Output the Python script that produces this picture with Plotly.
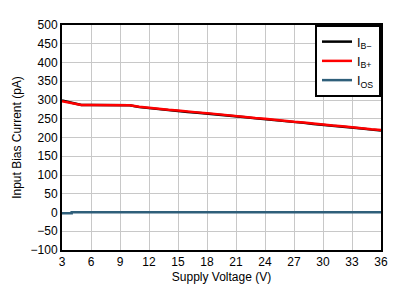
import plotly.graph_objects as go

vsup = [3, 3.5, 4, 4.5, 5, 6, 7, 8, 9, 10, 11, 12, 13, 14, 15, 16, 17, 18, 19, 20,
        21, 22, 23, 24, 25, 26, 27, 28, 29, 30, 31, 32, 33, 34, 35, 36]
ib_plus = [297, 294, 291, 288, 287, 287, 287, 287, 287, 286, 282, 279, 277, 274, 272, 269, 267, 265, 262, 260,
           257, 255, 252, 250, 247, 245, 242, 240, 237, 235, 232, 230, 227, 225, 222, 220]
ib_minus = [299, 296, 293, 289, 287, 287, 287, 287, 287, 286, 281, 278, 276, 273, 271, 268, 266, 264, 261, 259,
            256, 254, 251, 249, 246, 244, 241, 239, 236, 234, 231, 229, 226, 224, 221, 219]
ios = [-2, -2, 1, 1, 1, 1, 1, 1, 1, 1, 1, 1, 1, 1, 1, 1, 1, 1, 1, 1,
       1, 1, 1, 1, 1, 1, 1, 1, 1, 1, 1, 1, 1, 1, 1, 1]

x_ticks = list(range(3, 37, 3))
y_ticks = list(range(-100, 501, 50))

fig = go.Figure()
fig.add_trace(go.Scatter(x=vsup, y=ib_minus, mode="lines", name="I<sub>B−</sub>",
                         line=dict(color="#000000", width=2.5)))
fig.add_trace(go.Scatter(x=vsup, y=ib_plus, mode="lines", name="I<sub>B+</sub>",
                         line=dict(color="#FF0000", width=2.5)))
fig.add_trace(go.Scatter(x=vsup, y=ios, mode="lines", name="I<sub>OS</sub>",
                         line=dict(color="#2F5F7A", width=2.5, shape="hv")))

fig.update_layout(
    width=404, height=298,
    margin=dict(l=62, r=23, t=25, b=48),
    paper_bgcolor="white", plot_bgcolor="white",
    font=dict(family="Liberation Sans, Arial, sans-serif", size=12, color="black"),
    showlegend=True,
    legend=dict(x=1, y=1, xanchor="right", yanchor="top",
                bordercolor="black", borderwidth=2, bgcolor="white",
                font=dict(size=12.5), tracegroupgap=0, itemwidth=30),
)
fig.update_xaxes(range=[3, 36], tickvals=x_ticks, showgrid=True, gridcolor="#C8C8C8",
                 gridwidth=1, showline=True, linecolor="black", linewidth=2, mirror=True,
                 ticks="", title=dict(text="Supply Voltage (V)", font=dict(size=12), standoff=4),
                 zeroline=False)
fig.update_yaxes(range=[-100, 500], tickvals=y_ticks, showgrid=True, gridcolor="#C8C8C8",
                 gridwidth=1, showline=True, linecolor="black", linewidth=2, mirror=True,
                 ticks="", title=dict(text="Input Bias Current (pA)", font=dict(size=12), standoff=6),
                 zeroline=False)

fig.write_html("out.html")
